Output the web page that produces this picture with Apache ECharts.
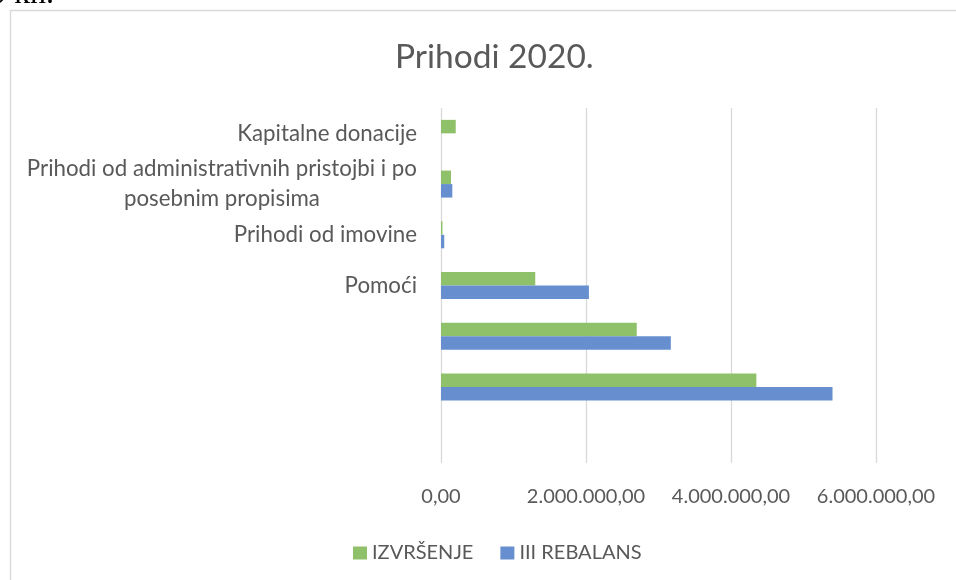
<!DOCTYPE html>
<html>
<head>
<meta charset="utf-8">
<title>Prihodi 2020.</title>
<script src="https://cdn.jsdelivr.net/npm/echarts@6/dist/echarts.min.js"></script>
<style>
  html, body { margin: 0; padding: 0; background: #fff; }
  #main { width: 956px; height: 580px; }
</style>
</head>
<body>
<div id="main"></div>
<script>
// kategorije odozgo prema dolje
var kategorije = ['Kapitalne donacije', 'Prihodi od administrativnih pristojbi i po\nposebnim propisima', 'Prihodi od imovine', 'Pomoći', '', ' ', '  '];
var izvrsenje = [203000, 138000, 20000, 1300000, 2700000, 4350000, null];
var rebalans = [0, 156000, 45000, 2040000, 3170000, 5400000, null];
var osTicks = [0, 2000000, 4000000, 6000000];

function brojHR(v) {
    var s = v.toFixed(2).split('.');
    return s[0].replace(/\B(?=(\d{3})+(?!\d))/g, '.') + ',' + s[1];
}

var main = document.getElementById('main');
var mychart = echarts.init(main);
var font = 'Lato';
var option = {
    animation: false,
    title: {text: 'Prihodi 2020.', left: 390, top: 35,
        textStyle: {fontFamily: font, fontSize: 33.5, fontWeight: 'normal', color: '#595959'}},
    legend: {data: ['IZVRŠENJE', 'III REBALANS'], left: 348, top: 538, icon: 'rect',
        itemWidth: 14, itemHeight: 13, itemGap: 27,
        textStyle: {fontFamily: font, fontSize: 20, color: '#595959'}},
    grid: {left: 441, right: 80, top: 108, bottom: 117},
    graphic: [
        {type: 'rect', shape: {x: 10.5, y: 10.5, width: 980, height: 620}, silent: true,
            style: {fill: 'none', stroke: '#d9d9d9', lineWidth: 1.3}},
        {type: 'text', x: 54, y: -5, silent: true,
            style: {text: '0 kn.', fontFamily: 'Liberation Serif', fontSize: 32, fill: '#000',
                textAlign: 'right', textVerticalAlign: 'middle'}}
    ],
    xAxis: {type: 'value', min: osTicks[0], max: osTicks[osTicks.length - 1], interval: osTicks[1] - osTicks[0],
        axisLine: {show: false}, axisTick: {show: false},
        splitLine: {lineStyle: {color: '#d9d9d9', width: 1.3}},
        axisLabel: {formatter: brojHR, margin: 24, fontFamily: font, fontSize: 20, color: '#595959'}},
    yAxis: {type: 'category', inverse: true, data: kategorije,
        axisLine: {show: false}, axisTick: {show: false},
        axisLabel: {interval: 0, margin: 24, color: '#595959', fontFamily: font, fontSize: 22.3, lineHeight: 30,
            formatter: function (v) { return v.trim() ? '{c|' + v + '}' : ''; },
            rich: {c: {align: 'center', fontFamily: font, fontSize: 22.3, lineHeight: 30, color: '#595959'}}}},
    series: [
        {name: 'IZVRŠENJE', type: 'bar', data: izvrsenje, barWidth: 13.5, barGap: '0%',
            itemStyle: {color: '#8fc16a'}},
        {name: 'III REBALANS', type: 'bar', data: rebalans, barWidth: 13.5, barGap: '0%',
            itemStyle: {color: '#678fcf'}}
    ]
};
mychart.setOption(option);
</script>
</body>
</html>
